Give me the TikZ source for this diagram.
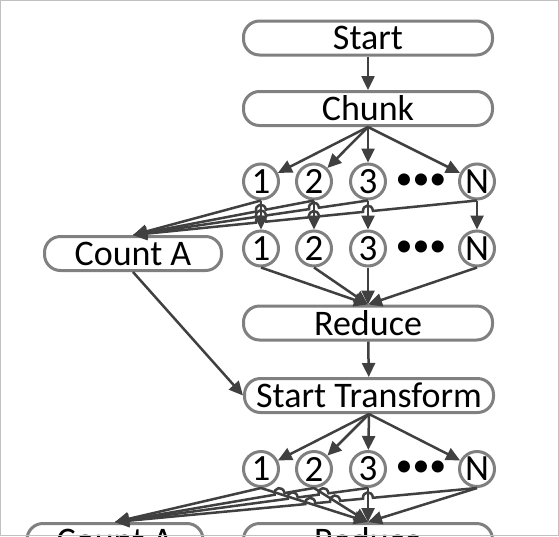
\documentclass[tikz,border=0pt]{standalone}
\usepackage{fontspec}
\setmainfont{Carlito}
\usetikzlibrary{arrows.meta,calc,intersections}
\definecolor{FlowBorder}{HTML}{808080}
\definecolor{FlowLine}{HTML}{404040}
\definecolor{FlowFrame}{HTML}{C0C0C0}

\begin{document}
\begin{tikzpicture}[x=1pt,y=-1pt,>={Triangle[length=14pt,width=13pt]},
  box/.style={draw=FlowBorder,line width=3pt,rounded corners=16pt,fill=white,
    minimum width=249pt,minimum height=34pt,inner sep=0pt,font=\fontsize{36}{36}\selectfont},
  part/.style={circle,draw=FlowBorder,line width=3pt,fill=white,minimum size=35pt,
    inner sep=0pt,font=\fontsize{37}{37}\selectfont},
  dots/.style={inner sep=0pt,font=\fontsize{34}{34}\selectfont},
  link/.style={FlowLine,line width=2.5pt},
  hop/.style={bend right=90,looseness=2}]
  \useasboundingbox (0,0) rectangle (559,536);
  \fill[white] (0,0) rectangle (559,536);
  \clip (0,0) rectangle (559,536);
  % boxes
  \node[box] (start) at (368,38) {Start};
  \node[box] (chunk) at (368,108.5) {Chunk};
  \node[box,minimum width=177pt] (counta) at (133,253.5) {Count A};
  \node[box] (reduce) at (368,323) {Reduce};
  \node[box] (st) at (369,395.5) {Start Transform};
  \node[box,minimum width=176pt] (countb) at (115,540.5) {Count A};
  \node[box] (reduceb) at (368,540.5) {Reduce};
  % parts
  \foreach \n/\x in {1/261,2/314,3/368,N/477}{
    \node[part] (a\n) at (\x,181.5) {\n};
    \node[part] (b\n) at (\x,248.5) {\n};
    \node[part] (c\n) at (\x,469) {\n};
  }
  \node[dots] (adots) at (421,181.5) {•••};
  \node[dots] (bdots) at (421,248.5) {•••};
  \node[dots] (cdots) at (421,469) {•••};
  % links
  \draw[link,->] (start) -- (chunk);
  \foreach \n in {1,2,3,N}{
    \draw[link,->] (chunk.south) -- (a\n);
    \draw[link,->,name path=v\n] (a\n) -- (b\n);
    \draw[link,->] (b\n.south) -- (reduce.north);
    \draw[link,->] (st.south) -- (c\n);
    \draw[link,->,name path=r\n] (c\n.south) -- (reduceb.north);
  }
  \draw[link,->] (reduce) -- (st);
  \draw[link,->] (counta.south) -- (st.west);
  % to count a, with hops
  \path[name path=d2] (a2.south) -- (counta.north);
  \path[name path=d3] (a3.south) -- (counta.north);
  \path[name path=dN] (aN.south) -- (counta.north);
  \path[name intersections={of=d2 and v1,by=h21}];
  \path[name intersections={of=d3 and v1,by=h31}];
  \path[name intersections={of=d3 and v2,by=h32}];
  \path[name intersections={of=dN and v1,by=hN1}];
  \path[name intersections={of=dN and v2,by=hN2}];
  \path[name intersections={of=dN and v3,by=hN3}];
  \draw[link,->] (a1.south) -- (counta.north);
  \draw[link,->] (a2.south) -- ($(h21)!5pt!(a2.south)$) to[hop] ($(h21)!5pt!(counta.north)$)
    -- (counta.north);
  \draw[link,->] (a3.south) -- ($(h32)!5pt!(a3.south)$) to[hop] ($(h32)!5pt!(counta.north)$)
    -- ($(h31)!5pt!(a3.south)$) to[hop] ($(h31)!5pt!(counta.north)$) -- (counta.north);
  \draw[link,->] (aN.south) -- ($(hN3)!5pt!(aN.south)$) to[hop] ($(hN3)!5pt!(counta.north)$)
    -- ($(hN2)!5pt!(aN.south)$) to[hop] ($(hN2)!5pt!(counta.north)$)
    -- ($(hN1)!5pt!(aN.south)$) to[hop] ($(hN1)!5pt!(counta.north)$) -- (counta.north);
  % second count a
  \path[name path=e2] (c2.south) -- (countb.north);
  \path[name path=e3] (c3.south) -- (countb.north);
  \path[name path=eN] (cN.south) -- (countb.north);
  \path[name intersections={of=e2 and r1,by=k21}];
  \path[name intersections={of=e3 and r1,by=k31}];
  \path[name intersections={of=e3 and r2,by=k32}];
  \path[name intersections={of=eN and r1,by=kN1}];
  \path[name intersections={of=eN and r2,by=kN2}];
  \path[name intersections={of=eN and r3,by=kN3}];
  \draw[link,->] (c1.south) -- (countb.north);
  \draw[link,->] (c2.south) -- ($(k21)!5pt!(c2.south)$) to[hop] ($(k21)!5pt!(countb.north)$)
    -- (countb.north);
  \draw[link,->] (c3.south) -- ($(k32)!5pt!(c3.south)$) to[hop] ($(k32)!5pt!(countb.north)$)
    -- ($(k31)!5pt!(c3.south)$) to[hop] ($(k31)!5pt!(countb.north)$) -- (countb.north);
  \draw[link,->] (cN.south) -- ($(kN3)!5pt!(cN.south)$) to[hop] ($(kN3)!5pt!(countb.north)$)
    -- ($(kN2)!5pt!(cN.south)$) to[hop] ($(kN2)!5pt!(countb.north)$)
    -- ($(kN1)!5pt!(cN.south)$) to[hop] ($(kN1)!5pt!(countb.north)$) -- (countb.north);
  \draw[FlowFrame,line width=1pt] (0.5,0.5) rectangle (558.5,535.5);
\end{tikzpicture}
\end{document}
